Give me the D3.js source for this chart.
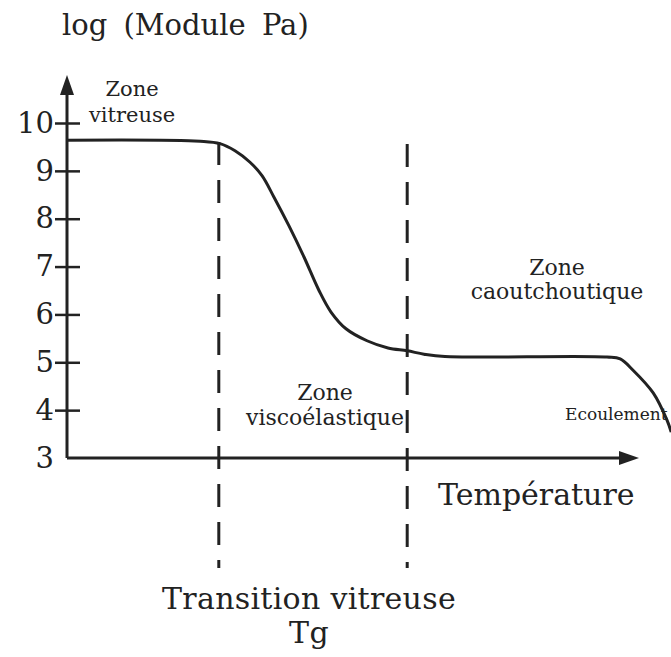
<!DOCTYPE html>
<html>
<head>
<meta charset="utf-8">
<script src="https://cdn.jsdelivr.net/npm/d3@7"></script>
<style>
  body { margin: 0; background: #fff; overflow: hidden; }
  text { font-family: "DejaVu Serif", serif; fill: #222; }
</style>
</head>
<body>
<svg id="chart" width="671" height="657"></svg>
<script>
// temperature (arbitrary units) and log of the modulus
var temps = [0, 22.2, 25.5, 28, 30.5, 32.5, 34.5, 37, 39.5, 42, 44, 46.5, 50, 53.5, 56.7, 59.5, 63, 90, 92.2, 94.3, 97.7, 100, 100.7];
var logModule = [9.64, 9.62, 9.57, 9.42, 9.18, 8.90, 8.45, 7.85, 7.20, 6.50, 6.05, 5.70, 5.45, 5.30, 5.24, 5.17, 5.12, 5.11, 5.07, 4.84, 4.36, 3.79, 3.54];
var yTicks = [3, 4, 5, 6, 7, 8, 9, 10];
var transitions = [25.3, 56.7];   // dashed lines
var ink = "#222";

var svg = d3.select("#chart");

var x = d3.scaleLinear().domain([0, 100]).range([67, 667]);
var y = d3.scaleLinear().domain([3, 10]).range([458, 123]);

// axis title
svg.append("text").attr("x", 62).attr("y", 35)
  .style("font-size", "29px").style("word-spacing", "7px")
  .text("log (Module Pa)");

// y axis with ticks crossing the line
var yAxis = d3.axisLeft(y).tickValues(yTicks).tickSizeInner(12).tickSizeOuter(0).tickPadding(3)
  .tickFormat(d3.format("d"));
var gy = svg.append("g").attr("transform", "translate(67,0)").call(yAxis);
gy.select(".domain").remove();
gy.selectAll(".tick line").attr("x2", 13).attr("x1", -12)
  .attr("stroke", ink).attr("stroke-width", 2.5)
  .filter(function(d) { return d === 3; }).remove();
gy.selectAll(".tick text").style("font-size", "29px").style("font-family", "DejaVu Serif, serif")
  .attr("fill", ink).attr("x", -13);

// axis lines with arrows
svg.append("line").attr("x1", 67).attr("y1", 458).attr("x2", 67).attr("y2", 92)
  .attr("stroke", ink).attr("stroke-width", 3);
svg.append("path").attr("d", "M67,75 L60,95 L74,95 Z").attr("fill", ink);
svg.append("line").attr("x1", 67).attr("y1", 458).attr("x2", 622).attr("y2", 458)
  .attr("stroke", ink).attr("stroke-width", 3);
svg.append("path").attr("d", "M639,458 L619,451 L619,465 Z").attr("fill", ink);

// dashed transition lines
svg.selectAll(".tr").data(transitions).enter().append("line")
  .attr("class", "tr")
  .attr("x1", function(d) { return x(d); }).attr("x2", function(d) { return x(d); })
  .attr("y1", function(d, i) { return i === 0 ? 142 : 144; }).attr("y2", 568)
  .attr("stroke", ink).attr("stroke-width", 3).attr("stroke-dasharray", "23,15");

// modulus curve
var pts = temps.map(function(t, i) { return [t, logModule[i]]; });
var line = d3.line().x(function(d) { return x(d[0]); }).y(function(d) { return y(d[1]); })
  .curve(d3.curveCatmullRom.alpha(0.5));
svg.append("path").datum(pts).attr("d", line)
  .attr("fill", "none").attr("stroke", ink).attr("stroke-width", 3);

// zone labels
function label(lines, cx, y0, size, gap) {
  var t = svg.append("text").attr("text-anchor", "middle").style("font-size", size + "px");
  lines.forEach(function(s, i) {
    t.append("tspan").attr("x", cx).attr("y", y0 + i * gap).text(s);
  });
  return t;
}
label(["Zone", "vitreuse"], 132, 96, 21, 26);
label(["Zone", "caoutchoutique"], 557, 275, 22, 24);
label(["Zone", "viscoélastique"], 325, 400, 22, 25);

svg.append("text").attr("x", 565).attr("y", 420).style("font-size", "17px").text("Ecoulement");

svg.append("text").attr("x", 438).attr("y", 505).style("font-size", "30px").text("Température");
label(["Transition vitreuse", "Tg"], 309, 609, 30, 34).style("letter-spacing", "0.3px");
</script>
</body>
</html>
